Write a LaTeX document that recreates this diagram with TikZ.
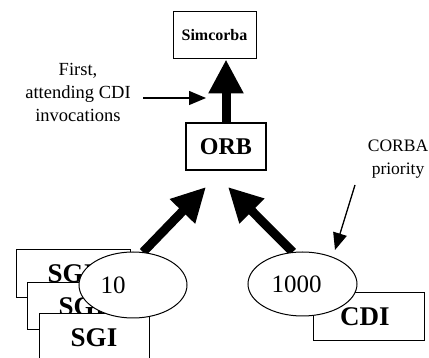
\documentclass[tikz,border=0pt]{standalone}
\usepackage{fontspec}
\setmainfont{Liberation Serif}
\usetikzlibrary{arrows.meta,shapes.geometric,backgrounds}
\tikzset{
  box/.style={draw=black,fill=white,line width=1pt,inner sep=0pt},
  boxtext/.style={font=\bfseries\fontsize{27}{30}\selectfont},
  oval/.style={draw=black,fill=white,ellipse,line width=1pt,inner sep=0pt,font=\fontsize{25}{28}\selectfont},
  bigarrow/.style={line width=9pt,-{Triangle[width=33pt,length=34pt]}},
  thinarrow/.style={line width=1.3pt,-{Triangle[width=14pt,length=17pt]}},
  note/.style={align=center,font=\fontsize{18.5}{23}\selectfont,inner sep=0pt}
}
\begin{document}
\begin{tikzpicture}[x=1pt,y=-1pt]
\useasboundingbox (0,0) rectangle (429,358);
% top boxes
\node[box,minimum width=83pt,minimum height=47pt,font=\bfseries\fontsize{16}{18}\selectfont] (sim) at (214.5,35.5) {Simcorba};
\node[box,line width=2pt,minimum width=80pt,minimum height=47pt,font=\bfseries\fontsize{24}{28}\selectfont] (orb) at (226,146.5) {ORB};
% SGI stack
\node[box,boxtext,minimum width=114pt,minimum height=48pt] (sgia) at (73,274) {SGI\kern4pt};
\node[box,boxtext,minimum width=110pt,minimum height=47pt] (sgib) at (82,306.5) {SGI};
\node[box,boxtext,minimum width=110pt,minimum height=48pt] (sgic) at (94,338) {SGI};
% CDI
\node[box,boxtext,minimum width=111pt,minimum height=48pt] (cdi) at (368.5,317) {CDI\kern7pt};
% ellipses
\node[oval,minimum width=108pt,minimum height=66pt] (e10) at (133,285) {10\kern40pt};
\node[oval,minimum width=109pt,minimum height=64pt] (e1000) at (302.5,284) {1000\kern12pt};
% notes
\node[note] (first) at (78,92) {First,\\attending CDI\\invocations};
\node[note,font=\fontsize{17.5}{23}\selectfont] (corba) at (398,159) {CORBA\\priority};
% free ends
\coordinate (t1) at (206,187);
\coordinate (t2) at (228,187);
\coordinate (fa) at (143,98);
\coordinate (fb) at (206,98);
\coordinate (ca) at (355,185);
\coordinate (cb) at (335,250);
\begin{scope}[on background layer]
\draw[bigarrow] (e10.73) -- (t1);
\draw[bigarrow] (e1000.107) -- (t2);
\end{scope}
\draw[bigarrow] (orb.north) -- (orb.north |- sim.south);
\draw[thinarrow] (fa) -- (fb);
\draw[thinarrow] (ca) -- (cb);
\end{tikzpicture}
\end{document}
